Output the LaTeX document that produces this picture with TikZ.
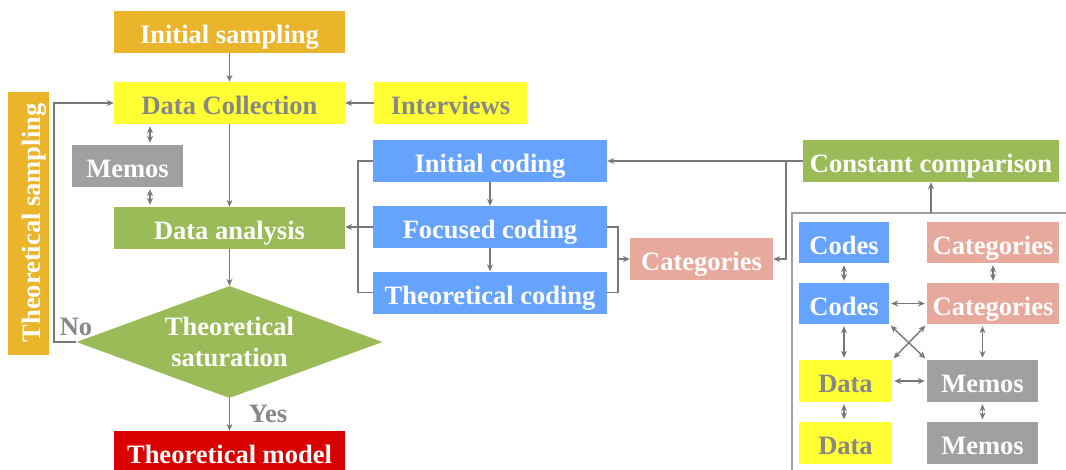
\documentclass[tikz,border=0pt]{standalone}
\usepackage{fontspec}
\setmainfont{Liberation Serif}
\usetikzlibrary{shapes.geometric,arrows.meta}
\definecolor{gold}{RGB}{235,181,43}
\definecolor{yel}{RGB}{255,255,51}
\definecolor{grn}{RGB}{155,187,89}
\definecolor{blu}{RGB}{102,163,255}
\definecolor{salmon}{RGB}{232,169,157}
\definecolor{boxgray}{RGB}{160,160,160}
\definecolor{mred}{RGB}{217,0,0}
\definecolor{txtgray}{RGB}{135,135,135}
\definecolor{linegray}{RGB}{120,120,120}
\begin{document}
\begin{tikzpicture}[x=1pt,y=-1pt,>={Stealth[length=7pt,width=6pt]},
    bf/.style={font=\bfseries\fontsize{26.5}{31}\selectfont},
    box/.style={bf,rectangle,inner sep=0pt,minimum height=42pt,text height=25pt,text depth=2pt,text=white},
    lbl/.style={bf,text=txtgray},
    link/.style={draw=linegray,line width=1.6pt},
    dbl/.style={link,<->,line width=1.4pt,shorten <=2pt,shorten >=2pt}]
  \clip (0,0) rectangle (1066,469);
  % main loop
  \node[box,fill=gold,minimum width=231pt] (init) at (229.5,31.5) {Initial sampling};
  \node[box,fill=yel,text=txtgray,minimum width=231pt] (dcol) at (229.5,103) {Data Collection};
  \node[box,fill=yel,text=txtgray,minimum width=153pt] (intv) at (450.5,103) {Interviews};
  \node[box,fill=boxgray,minimum width=111pt] (memo) at (127.5,166) {Memos};
  \node[box,fill=grn,minimum width=231pt] (dana) at (229.5,228) {Data analysis};
  \node[bf,text=white,fill=grn,shape=diamond,aspect=2.73,inner sep=0pt,minimum width=306pt,minimum height=112pt,align=center] (sat) at (229.5,342) {Theoretical\\saturation};
  \node[box,fill=mred,minimum width=231pt] (model) at (229.5,452) {Theoretical model};
  \node[box,fill=gold,rotate=90,minimum width=263pt,minimum height=41pt] (tsamp) at (28.5,223) {Theoretical sampling};
  \node[lbl] (no) at (76,327) {No};
  \node[lbl] (yes) at (268,414) {Yes};
  \draw[link,->] (init) -- (dcol);
  \draw[link,->] (intv) -- (dcol);
  \draw[link,->] (dcol) -- (dana);
  \coordinate (m1) at ([xshift=22.5pt]memo.north);
  \coordinate (m2) at ([xshift=22.5pt]memo.south);
  \draw[dbl] (m1 |- dcol.south) -- (m1);
  \draw[dbl] (m2) -- (m2 |- dana.north);
  \draw[link,->] (dana) -- (sat);
  \draw[link,->] (sat) -- (model);
  \coordinate (back) at (54,0);
  \draw[link,->] (sat.west) -| (back |- dcol.west) -- (dcol.west);
  % coding
  \node[box,fill=blu,minimum width=234pt] (icod) at (490,161) {Initial coding};
  \node[box,fill=blu,minimum width=234pt] (fcod) at (490,227) {Focused coding};
  \node[box,fill=blu,minimum width=234pt] (tcod) at (490,292.5) {Theoretical coding};
  \node[box,fill=salmon,minimum width=143pt] (cat) at (701.5,259) {Categories};
  \node[box,fill=grn,minimum width=256pt] (ccomp) at (931,161) {Constant comparison};
  \draw[link,->] (icod) -- (fcod);
  \draw[link,->] (fcod) -- (tcod);
  \draw[link] (icod.west) -- ++(-15,0) |- (tcod.west);
  \draw[link,->] (fcod.west) -- (fcod.west -| dana.east);
  \coordinate (rb) at ([xshift=11pt]fcod.east);
  \draw[link] (fcod.east) -- (rb) |- (tcod.east);
  \draw[link,->] (rb |- cat.west) -- (cat.west);
  \draw[link,->] (ccomp.west) -- (icod.east);
  \draw[link,->] ([xshift=-17pt]ccomp.west) |- (cat.east);
  % comparison frame
  \coordinate (fr) at (792,213);
  \draw[draw=boxgray,line width=1.2pt] (792,480) -- (fr) -- (1070,213);
  \draw[link,->] (ccomp.south |- fr) -- (ccomp.south);
  \node[box,fill=blu,minimum width=90pt,minimum height=41pt] (cod1) at (844,242.5) {Codes};
  \node[box,fill=salmon,minimum width=132pt,minimum height=41pt] (cat1) at (993,242.5) {Categories};
  \node[box,fill=blu,minimum width=90pt,minimum height=41pt] (cod2) at (844,303.5) {Codes};
  \node[box,fill=salmon,minimum width=132pt,minimum height=41pt] (cat2) at (993,303.5) {Categories};
  \node[box,fill=yel,text=txtgray,minimum width=93pt] (dat1) at (845.5,381) {Data};
  \node[box,fill=boxgray,minimum width=111pt] (mem1) at (982.5,381) {Memos};
  \node[box,fill=yel,text=txtgray,minimum width=93pt] (dat2) at (845.5,442.5) {Data};
  \node[box,fill=boxgray,minimum width=111pt] (mem2) at (982.5,442.5) {Memos};
  \draw[dbl] (cod1) -- (cod2);
  \draw[dbl] (cat1) -- (cat2);
  \draw[dbl] (cod2.south) -- (cod2.south |- dat1.north);
  \draw[dbl] (mem1.north |- cat2.south) -- (mem1.north);
  \draw[dbl] (cod2.south |- dat1.south) -- (cod2.south |- dat2.north);
  \draw[dbl] (mem1) -- (mem2);
  \draw[dbl] (cod2) -- (cat2);
  \draw[dbl] (dat1) -- (mem1);
  \draw[dbl] (cod2.south east) -- (mem1.north west);
  \draw[dbl] (dat1.north east) -- (cat2.south west);
\end{tikzpicture}
\end{document}
